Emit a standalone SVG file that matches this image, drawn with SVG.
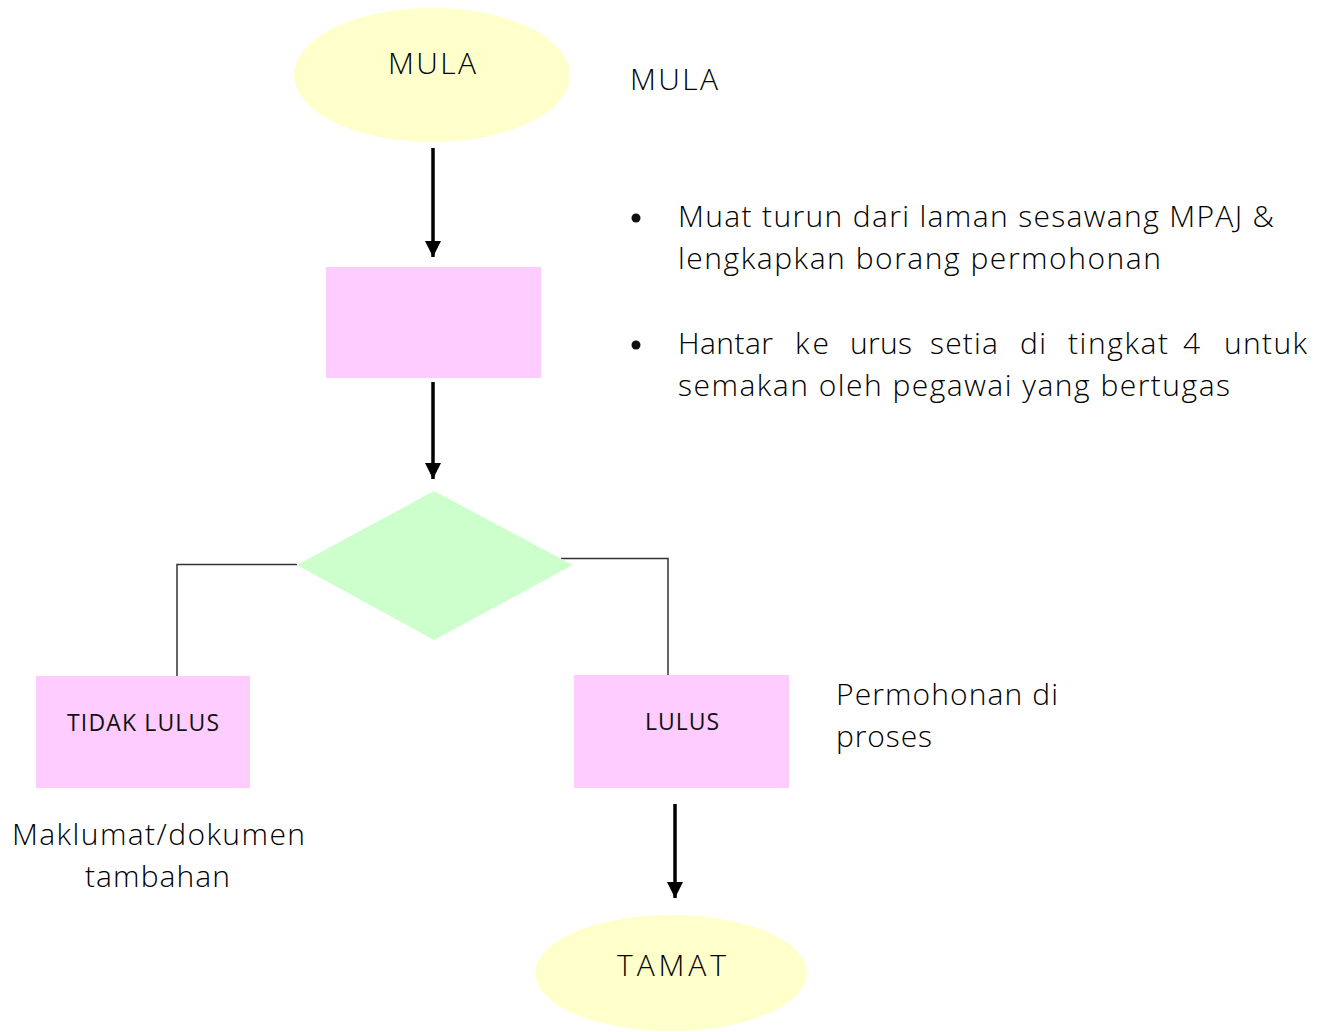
<svg xmlns="http://www.w3.org/2000/svg" width="1328" height="1032" viewBox="0 0 1328 1032">
<style>
.t{font-family:"Open Sans","Noto Sans","Liberation Sans",sans-serif;font-size:30px;font-weight:350;fill:#000;}
.c{font-family:"Open Sans","Liberation Sans",sans-serif;font-size:23px;fill:#111;}
.term{fill:#FFFFCC;}
.proc{fill:#FFCCFF;}
.dec{fill:#CCFFCC;}
.arrow{stroke:#000;stroke-width:3.5;fill:none;}
.link{stroke:#333;stroke-width:1.5;fill:none;}
</style>
<defs>
<marker id="ah" viewBox="0 0 10 10" refX="10" refY="5" markerWidth="4.6" markerHeight="4.6" markerUnits="strokeWidth" orient="auto">
<path d="M0,0 L10,5 L0,10 Z" fill="#000"/>
</marker>
</defs>
<g id="connectors">
<line class="arrow" x1="433" y1="148" x2="433" y2="257" marker-end="url(#ah)"/>
<line class="arrow" x1="433" y1="382" x2="433" y2="479" marker-end="url(#ah)"/>
<polyline class="link" points="297,564.5 177,564.5 177,676"/>
<polyline class="link" points="561,558.5 668,558.5 668,676"/>
<line class="arrow" x1="675" y1="804" x2="675" y2="898" marker-end="url(#ah)"/>
</g>
<g id="mula">
<ellipse class="term" cx="432" cy="75" rx="138" ry="67"/>
<text class="t" x="432" y="74" text-anchor="middle" textLength="88" lengthAdjust="spacing">MULA</text>
</g>
<g id="borang">
<rect class="proc" x="326" y="267" width="215" height="111"/>
</g>
<g id="semakan">
<polygon class="dec" points="434,491 573,565 434,640 297,565"/>
</g>
<g id="tidak-lulus">
<rect class="proc" x="36" y="676" width="214" height="112"/>
<text class="c" x="143" y="731" text-anchor="middle" textLength="152" lengthAdjust="spacing">TIDAK LULUS</text>
</g>
<g id="lulus">
<rect class="proc" x="574" y="675" width="215" height="113"/>
<text class="c" x="682" y="730" text-anchor="middle" textLength="74" lengthAdjust="spacing">LULUS</text>
</g>
<g id="tamat">
<ellipse class="term" cx="671" cy="973" rx="136" ry="58"/>
<text class="t" x="671.5" y="976" text-anchor="middle" textLength="109" lengthAdjust="spacing">TAMAT</text>
</g>
<g id="notes">
<text class="t" x="630" y="90" textLength="88" lengthAdjust="spacing">MULA</text>
<circle cx="636" cy="218" r="4.5" fill="#111"/>
<text class="t" x="678" y="227" textLength="596" lengthAdjust="spacing">Muat turun dari laman sesawang MPAJ &amp;</text>
<text class="t" x="678" y="269" textLength="483" lengthAdjust="spacing">lengkapkan borang permohonan</text>
<circle cx="636" cy="345" r="4.5" fill="#111"/>
<text class="t" y="354"><tspan x="678" textLength="95" lengthAdjust="spacing">Hantar</tspan> <tspan x="795" textLength="34" lengthAdjust="spacing">ke</tspan> <tspan x="850" textLength="62" lengthAdjust="spacing">urus</tspan> <tspan x="930" textLength="68" lengthAdjust="spacing">setia</tspan> <tspan x="1020" textLength="26" lengthAdjust="spacing">di</tspan> <tspan x="1068" textLength="100" lengthAdjust="spacing">tingkat</tspan> <tspan x="1183">4</tspan> <tspan x="1224" textLength="83" lengthAdjust="spacing">untuk</tspan></text>
<text class="t" x="678" y="396" textLength="552" lengthAdjust="spacing">semakan oleh pegawai yang bertugas</text>
<text class="t" x="836" y="705" textLength="222" lengthAdjust="spacing">Permohonan di</text>
<text class="t" x="836" y="747" textLength="96" lengthAdjust="spacing">proses</text>
<text class="t" x="158.5" y="845" text-anchor="middle" textLength="293" lengthAdjust="spacing">Maklumat/dokumen</text>
<text class="t" x="157.5" y="887" text-anchor="middle" textLength="145" lengthAdjust="spacing">tambahan</text>
</g>
</svg>
